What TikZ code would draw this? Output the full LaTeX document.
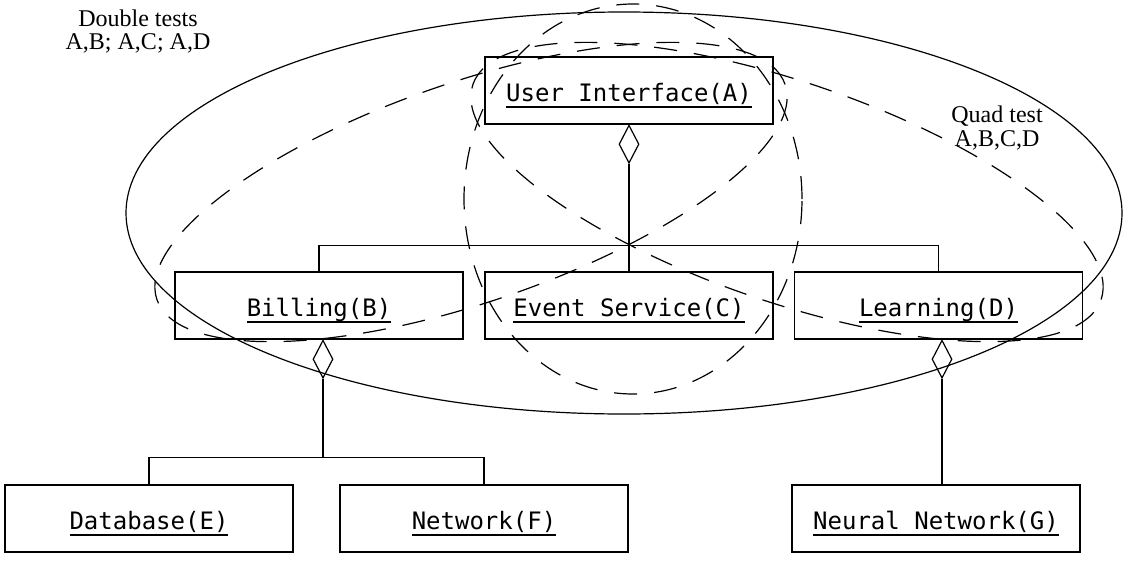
\documentclass[tikz,border=0pt]{standalone}
\usepackage{fontspec}
\setmainfont{Liberation Serif}
\setmonofont{DejaVu Sans Mono}
\usetikzlibrary{shapes.geometric,calc}
\newcommand\myul[1]{\setbox0\hbox{#1}\rlap{\rule[-6pt]{\wd0}{1.2pt}}\box0}
\begin{document}
\begin{tikzpicture}[x=1pt,y=-1pt,line width=1.2pt,
  umlbox/.style={draw, minimum width=288pt, minimum height=67pt, inner sep=0pt,
    font=\ttfamily\fontsize{24}{24}\selectfont, text height=28pt, text depth=6pt},
  agg/.style={diamond, draw, minimum width=20pt, minimum height=38pt, inner sep=0pt},
  grp/.style={dash pattern=on 23pt off 17pt},
  lbl/.style={font=\fontsize{24}{24}\selectfont, anchor=base, inner sep=0pt}]
\fill[white] (0,0) rectangle (1132,560);
\useasboundingbox (0,0) rectangle (1132,560);

% groupings
\draw (624,213) ellipse [x radius=498pt, y radius=201pt];
\draw[grp] (633,199) ellipse [x radius=169pt, y radius=195pt];
\draw[grp, rotate around={18.9:(471,192)}] (471,192) ellipse [x radius=332pt, y radius=110pt];
\draw[grp, rotate around={-18.9:(787,192)}] (787,192) ellipse [x radius=332pt, y radius=110pt];

% classes
\node[umlbox] (A) at (629,90.5) {\myul{User Interface(A)}};
\node[umlbox] (B) at (319,305.5) {\myul{Billing(B)}};
\node[umlbox] (C) at (629,305.5) {\myul{Event Service(C)}};
\node[umlbox] (D) at (938.5,305.5) {\myul{Learning(D)}};
\node[umlbox] (E) at (149,518.5) {\myul{Database(E)}};
\node[umlbox] (F) at (484,518.5) {\myul{Network(F)}};
\node[umlbox] (G) at (936,518.5) {\myul{Neural Network(G)}};

% aggregation diamonds
\node[agg, anchor=north] (dA) at (A.south) {};
\node[agg, anchor=north] (dB) at ($(B.south)+(4,0)$) {};
\node[agg, anchor=north] (dD) at ($(D.south)+(3.5,0)$) {};

% connectors
\draw (dA.south) -- (C.north);
\draw (B.north) -- ++(0,-26) coordinate (tb) -| (D.north);
\draw (E.north) -- ++(0,-27) coordinate (eb) -| (F.north);
\draw (dB.south) -- (dB.south |- eb);
\draw (dD.south) -- (dD.south |- G.north);

% labels
\node[lbl] (dbl1) at (138,26) {Double tests};
\node[lbl] (dbl2) at (138,49.3) {A,B; A,C; A,D};
\node[lbl] (q1) at (997,122) {Quad test};
\node[lbl] (q2) at (997,146) {A,B,C,D};
\end{tikzpicture}
\end{document}
